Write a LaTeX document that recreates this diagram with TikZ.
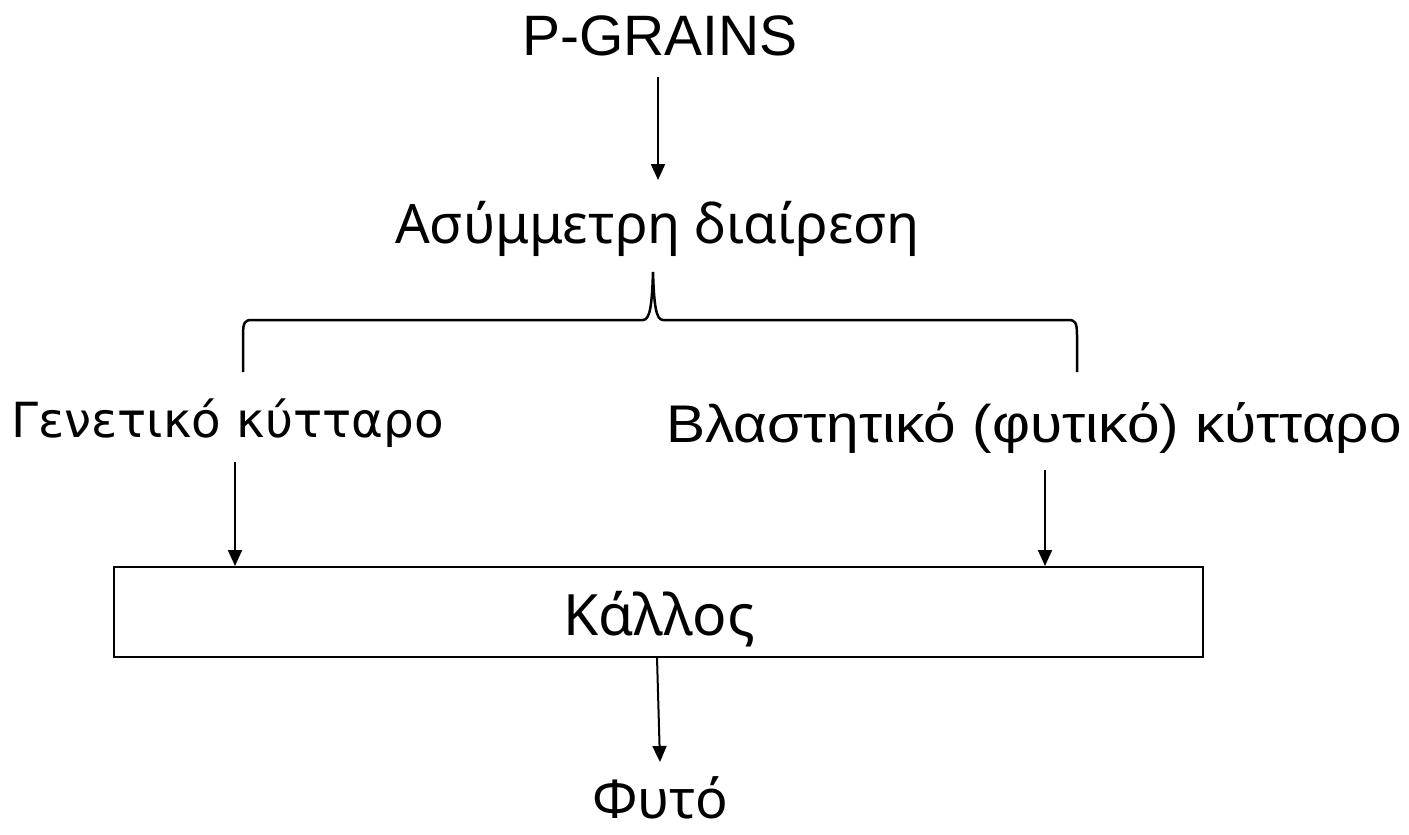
\documentclass[tikz,border=0pt]{standalone}
\usepackage{graphicx}
\usepackage{fontspec}
\setmainfont{Liberation Sans}
\newfontfamily\humfont{Noto Sans}
\newfontfamily\widefont{DejaVu Sans}
\usetikzlibrary{arrows.meta}
\tikzset{
  lbl/.style={anchor=base, inner sep=0pt, font=#1},
  conn/.style={line width=1pt, -{Triangle[width=7pt,length=8pt]}},
  brace/.style={line width=1.25pt},
}
\begin{document}
\begin{tikzpicture}[x=0.5pt,y=-0.5pt]
\useasboundingbox (0,0) rectangle (1409,835);
\node[lbl={\fontsize{28.5pt}{30pt}\selectfont}] (pg) at (660,55) {P-GRAINS};
\node[lbl={\humfont\fontsize{27.2pt}{29pt}\selectfont}] (asym) at (657.5,243) {Ασύμμετρη διαίρεση};
\node[lbl={\widefont\fontsize{24.2pt}{26pt}\selectfont}] (gen) at (227.5,437) {Γενετικό κύτταρο};
\node[lbl={\fontsize{26.5pt}{28pt}\selectfont}] (blast) at (1034,442) {\scalebox{1.105}[1]{Βλαστητικό (φυτικό) κύτταρο}};
\node[draw, line width=1pt, minimum width=544.5pt, minimum height=45pt, inner sep=0pt] (box) at (658.5,612) {};
\node[lbl={\humfont\fontsize{28.5pt}{30pt}\selectfont}] (kal) at (659,635) {Κάλλος};
\node[lbl={\humfont\fontsize{27pt}{29pt}\selectfont}] (fyto) at (660,818) {Φυτό};
\coordinate (a1s) at (658,77);
\coordinate (a1e) at (658,180);
\draw[conn] (a1s) -- (a1e);
\coordinate (bl) at (243,372);
\coordinate (br) at (1077,372);
\coordinate (bt) at (653,272);
\draw[brace] (bl) -- (243,335) .. controls (243,322) and (245,320) .. (252,320)
  -- (643,320) .. controls (650,320) and (652,305) .. (bt)
  .. controls (654,305) and (656,320) .. (663,320)
  -- (1068,320) .. controls (1075,320) and (1077,322) .. (1077,335) -- (br);
\coordinate (a2s) at (235,462);
\draw[conn] (a2s) -- (a2s |- box.north);
\coordinate (a3s) at (1045,470);
\draw[conn] (a3s) -- (a3s |- box.north);
\coordinate (a4s) at (657,657);
\coordinate (a4e) at (660,762);
\draw[conn] (a4s) -- (a4e);
\end{tikzpicture}
\end{document}
